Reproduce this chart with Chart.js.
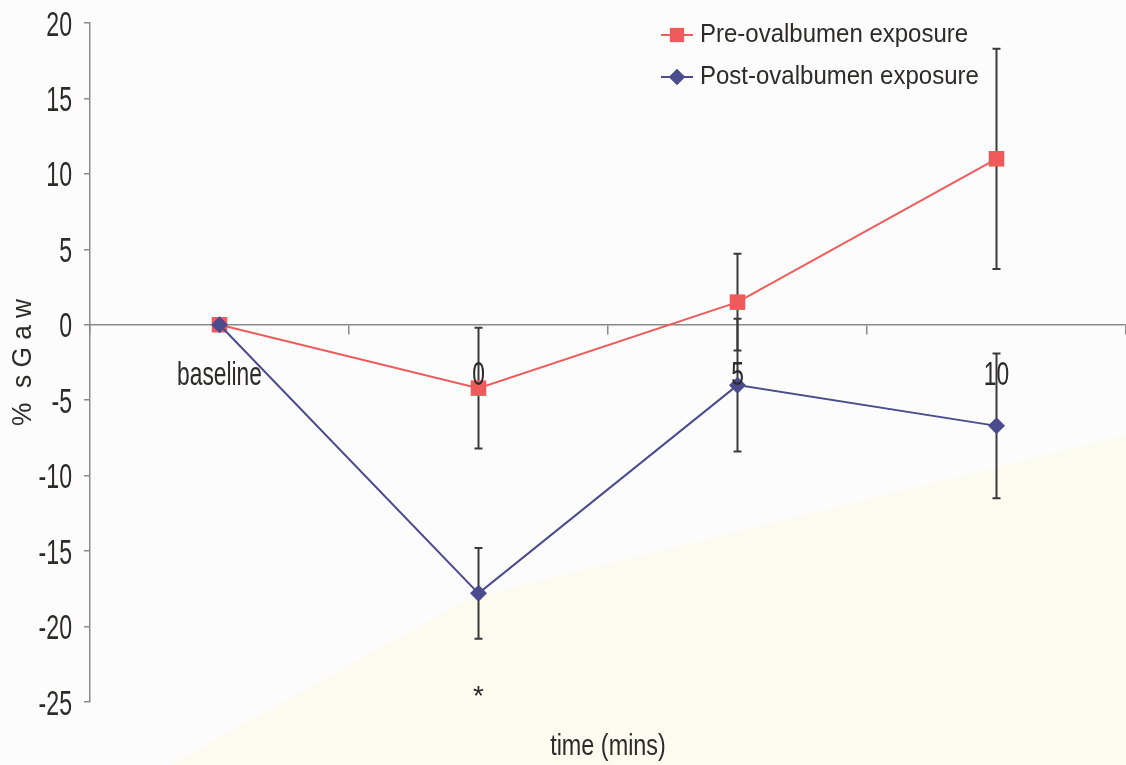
<!DOCTYPE html>
<html>
<head>
<meta charset="utf-8">
<script src="https://cdn.jsdelivr.net/npm/chart.js@4.4.1/dist/chart.umd.min.js"></script>
<style>
  html, body { margin: 0; padding: 0; background: #fcfcfc; overflow: hidden; }
  #wrap { width: 1126px; height: 765px; }
</style>
</head>
<body>
<div id="wrap"><canvas id="sgaw-chart" width="1126" height="765"></canvas></div>
<script>
// data
var categories = ['baseline', '0', '5', '10'];
var preValues = [0, -4.2, 1.5, 11.0];
var preErrors = [0, 4.0, 3.2, 7.3];
var postValues = [0, -17.8, -4.0, -6.7];
var postErrors = [0, 3.0, 4.4, 4.8];
var sigMarks = [{ category: '0', value: -24.7, text: '*' }];

var FONT = "'Liberation Sans', Arial, sans-serif";
var TEXT = '#2e2a2a';
var preColor = '#ef5b5b';
var postColor = '#4b4b8e';

// the original type is a narrow face, so squeeze regular text sideways
function condText(c, text, x, y, size, sx, align) {
    c.save();
    c.font = size + 'px ' + FONT;
    c.translate(x, y);
    c.scale(sx, 1);
    c.textAlign = align;
    c.textBaseline = 'alphabetic';
    c.fillText(text, 0, 0);
    c.restore();
}

// scan background, slightly cream in the lower right
var paperPlugin = {
    id: 'paper',
    beforeDraw: function(chart) {
        var c = chart.ctx;
        c.save();
        c.fillStyle = '#fcfcfc';
        c.fillRect(0, 0, chart.width, chart.height);
        c.fillStyle = '#fbfbf0';
        c.beginPath();
        c.moveTo(170, chart.height);
        c.lineTo(470, 598);
        c.lineTo(chart.width, 435);
        c.lineTo(chart.width, chart.height);
        c.closePath();
        c.fill();
        c.restore();
    }
};

var errorBarPlugin = {
    id: 'errorBars',
    beforeDatasetsDraw: function(chart) {
        var c = chart.ctx;
        var xs = chart.scales.x, ys = chart.scales.y;
        c.save();
        c.strokeStyle = '#3a3a3a';
        c.lineWidth = 2;
        chart.data.datasets.forEach(function(ds) {
            ds.data.forEach(function(v, i) {
                var e = ds.errors[i];
                if (!e) return;
                var x = xs.getPixelForValue(i);
                var top = ys.getPixelForValue(v + e);
                var bot = ys.getPixelForValue(v - e);
                c.beginPath();
                c.moveTo(x, top); c.lineTo(x, bot);
                c.moveTo(x - 4, top); c.lineTo(x + 4, top);
                c.moveTo(x - 4, bot); c.lineTo(x + 4, bot);
                c.stroke();
            });
        });
        c.restore();
    }
};

var textPlugin = {
    id: 'texts',
    afterDraw: function(chart) {
        var c = chart.ctx;
        var xs = chart.scales.x, ys = chart.scales.y;
        c.save();
        c.fillStyle = TEXT;

        // y tick labels
        ys.ticks.forEach(function(t) {
            condText(c, String(t.value), 72, ys.getPixelForValue(t.value) + 12.5, 35, 0.66, 'right');
        });
        // category labels just under the zero line
        var zeroY = ys.getPixelForValue(0);
        xs.getLabels().forEach(function(lab, i) {
            condText(c, lab, xs.getPixelForValue(i), zeroY + 60, 34, 0.67, 'center');
        });
        // axis titles
        condText(c, 'time (mins)', (chart.chartArea.left + chart.chartArea.right) / 2, 755, 30, 0.78, 'center');
        c.save();
        c.translate(31, (chart.chartArea.top + chart.chartArea.bottom) / 2);
        c.rotate(-Math.PI / 2);
        condText(c, '%  s G a w', 0, 0, 28, 0.94, 'center');
        c.restore();

        // asterisk under the significant point
        c.font = '28px ' + FONT;
        c.textAlign = 'center';
        c.textBaseline = 'middle';
        sigMarks.forEach(function(m) {
            c.fillText(m.text, xs.getPixelForValue(categories.indexOf(m.category)), ys.getPixelForValue(m.value));
        });

        // legend, stacked top right
        var rows = [
            { label: 'Pre-ovalbumen exposure', color: preColor, style: 'rect', r: 10, my: 35, ty: 42 },
            { label: 'Post-ovalbumen exposure', color: postColor, style: 'rectRot', r: 8, my: 77, ty: 84 }
        ];
        rows.forEach(function(r) {
            c.strokeStyle = r.color;
            c.lineWidth = 2;
            c.beginPath(); c.moveTo(661, r.my); c.lineTo(693, r.my); c.stroke();
            c.fillStyle = r.color;
            Chart.helpers.drawPoint(c, { pointStyle: r.style, radius: r.r, borderWidth: 0 }, 677, r.my);
            c.fill();
            c.fillStyle = TEXT;
            condText(c, r.label, 700, r.ty, 25, 0.96, 'left');
        });
        c.restore();
    }
};

var ctx = document.getElementById('sgaw-chart');
var sgawChart = new Chart(ctx, {
    type: 'line',
    data: {
        labels: categories,
        datasets: [
            {
                label: 'Pre-ovalbumen exposure',
                data: preValues,
                errors: preErrors,
                order: 1,
                borderColor: preColor,
                backgroundColor: preColor,
                borderWidth: 2,
                pointStyle: 'rect',
                pointRadius: 11,
                pointHoverRadius: 11,
                pointBorderWidth: 0,
                tension: 0
            },
            {
                label: 'Post-ovalbumen exposure',
                data: postValues,
                errors: postErrors,
                order: 0,
                borderColor: postColor,
                backgroundColor: postColor,
                borderWidth: 2,
                pointStyle: 'rectRot',
                pointRadius: 8.5,
                pointHoverRadius: 8.5,
                pointBorderWidth: 0,
                tension: 0
            }
        ]
    },
    options: {
        responsive: false,
        animation: false,
        layout: { autoPadding: false, padding: { top: 23, right: 0, bottom: 63, left: 0 } },
        plugins: {
            legend: { display: false },
            tooltip: { enabled: false }
        },
        scales: {
            x: {
                type: 'category',
                position: { y: 0 },
                offset: true,
                afterFit: function(scale) { scale.paddingLeft = 0; scale.paddingRight = 0; },
                grid: { offset: true, drawOnChartArea: false, drawTicks: true, tickLength: 9, color: '#8a8a8a', lineWidth: 1.5 },
                border: { display: true, color: '#8a8a8a', width: 1.5 },
                ticks: { display: false, padding: 0 }
            },
            y: {
                min: -25,
                max: 20,
                afterFit: function(scale) { scale.width = 90; },
                grid: { drawOnChartArea: false, drawTicks: true, tickLength: 6, color: '#8a8a8a', lineWidth: 1.5 },
                border: { display: true, color: '#8a8a8a', width: 1.5 },
                ticks: { stepSize: 5, display: false }
            }
        }
    },
    plugins: [paperPlugin, errorBarPlugin, textPlugin]
});
</script>
</body>
</html>
